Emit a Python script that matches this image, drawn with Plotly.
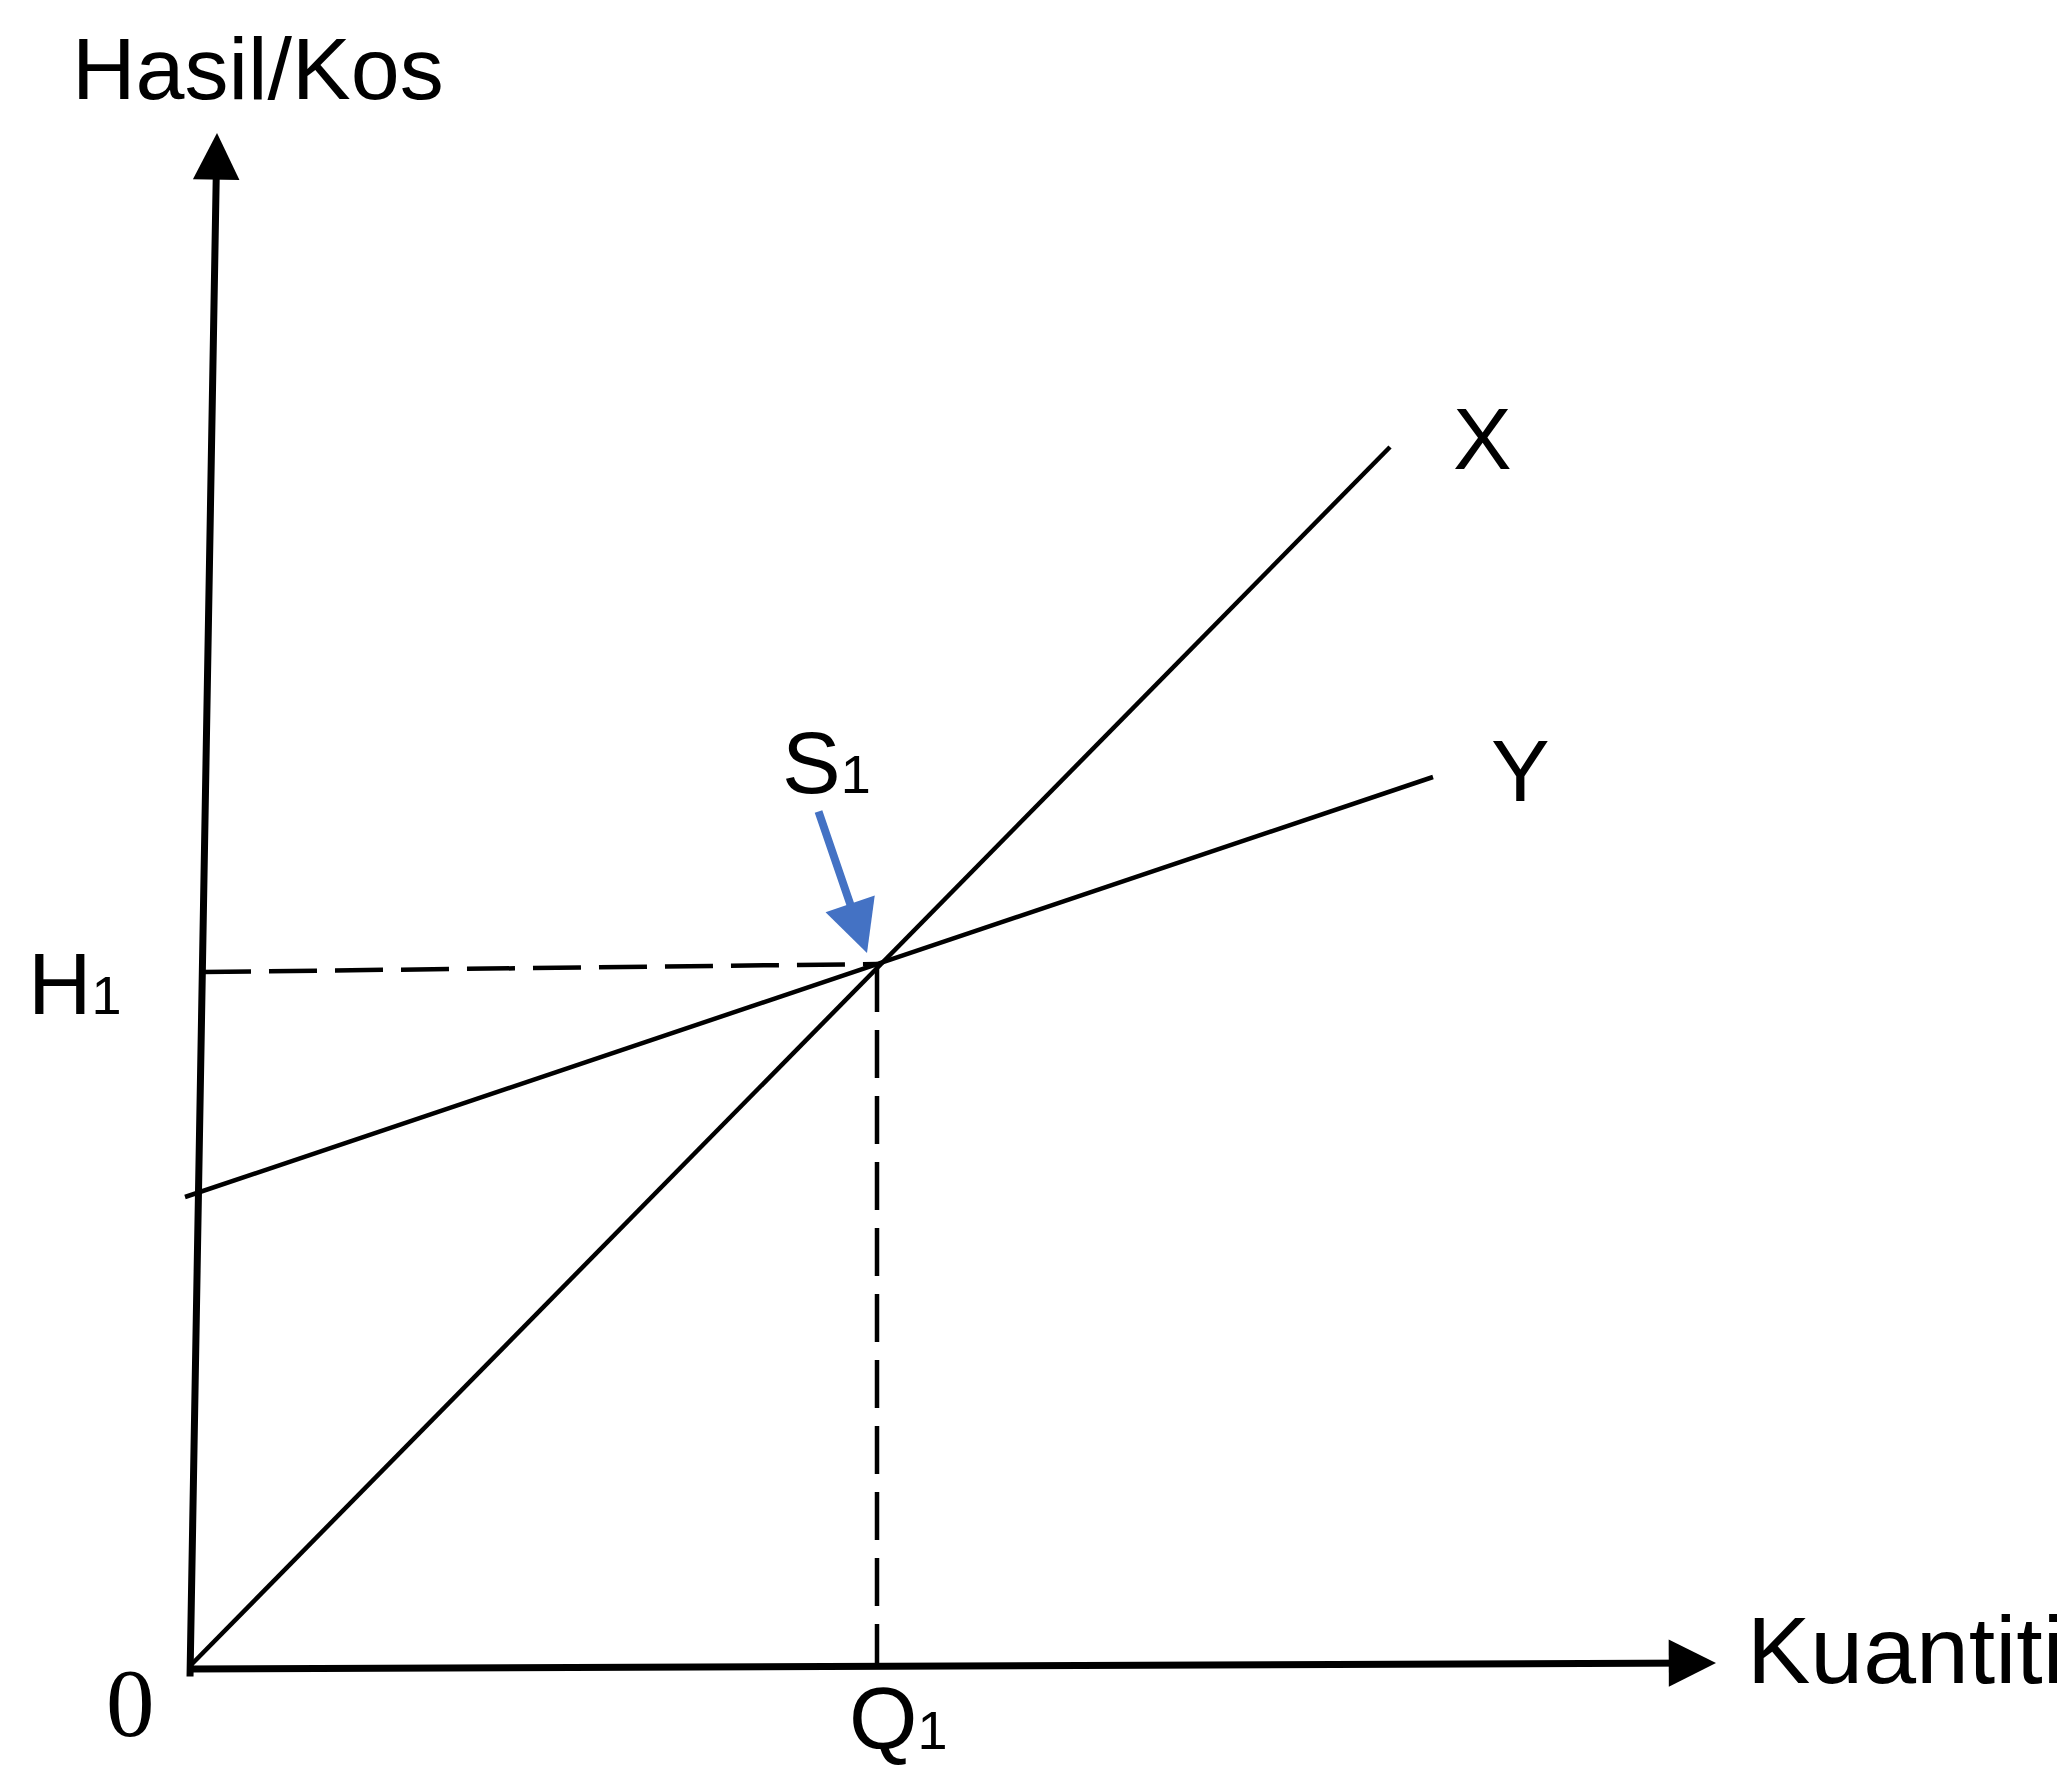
import plotly.graph_objects as go

# diagram values (origin = 0, one unit ~ 100 px)
q1 = 6.88
h1 = 7.03

x_curve_q = [0.0, 12.01]
x_curve_h = [0.0, 12.20]
y_curve_q = [-0.04, 12.44]
y_curve_h = [4.70, 8.90]

h1_guide_q = [0.14, q1]
h1_guide_h = [6.95, h1]
q1_guide_q = [q1, q1]
q1_guide_h = [h1, 0.0]

yaxis_q = [0.01, 0.28]      # bottom, tip
yaxis_h = [-0.11, 15.34]
xaxis_q = [-0.03, 15.27]    # left, tip
xaxis_h = [-0.02, 0.04]
s1_arrow_q = [6.29, 6.78]   # tail, tip
s1_arrow_h = [8.57, 7.14]

labels = ["Hasil/Kos", "X", "Y", "S<span style='font-size:54px'>1</span>",
          "H<span style='font-size:54px'>1</span>", "Q<span style='font-size:54px'>1</span>",
          "Kuantiti"]

BLACK = "#000000"
BLUE = "#4472c4"
SANS = "Liberation Sans, Arial, sans-serif"

fig = go.Figure()

fig.add_trace(go.Scatter(x=x_curve_q, y=x_curve_h, mode="lines",
                         line=dict(color=BLACK, width=4.5)))
fig.add_trace(go.Scatter(x=y_curve_q, y=y_curve_h, mode="lines",
                         line=dict(color=BLACK, width=4.5)))
fig.add_trace(go.Scatter(x=h1_guide_q, y=h1_guide_h, mode="lines",
                         line=dict(color=BLACK, width=4.5, dash="48px,18px")))
fig.add_trace(go.Scatter(x=q1_guide_q, y=q1_guide_h, mode="lines",
                         line=dict(color=BLACK, width=4.5, dash="48px,18px")))

# axes and the S1 pointer, drawn as annotation arrows
arrows = [
    (yaxis_q, yaxis_h, BLACK, 7, 1.33),
    (xaxis_q, xaxis_h, BLACK, 7, 1.35),
    (s1_arrow_q, s1_arrow_h, BLUE, 8, 1.3),
]
for qs, hs, col, w, size in arrows:
    fig.add_annotation(x=qs[1], y=hs[1], ax=qs[0], ay=hs[0],
                       xref="x", yref="y", axref="x", ayref="y",
                       text="", showarrow=True, arrowhead=2,
                       arrowwidth=w, arrowsize=size, arrowcolor=col)

label_pos = [
    (0.69, 15.99, "center", 88),
    (12.93, 12.29, "center", 88),
    (13.31, 8.97, "center", 88),
    (6.37, 9.05, "center", 88),
    (-1.14, 6.84, "center", 88),
    (7.09, -0.51, "center", 88),
    (15.56, 0.17, "left", 95),
]
for text, (lx, ly, anchor, fs) in zip(labels, label_pos):
    fig.add_annotation(x=lx, y=ly, xref="x", yref="y", text=text,
                       showarrow=False, xanchor=anchor, yanchor="middle",
                       font=dict(family=SANS, size=fs, color=BLACK))

fig.add_annotation(x=-0.59, y=-0.36, xref="x", yref="y", text="0",
                   showarrow=False, xanchor="center", yanchor="middle",
                   font=dict(family="Liberation Serif, Times New Roman, serif",
                             size=97, color=BLACK))

# ranges account for the 8px page margin around the plot div
fig.update_layout(
    width=2065, height=1769,
    margin=dict(l=0, r=0, t=0, b=0),
    plot_bgcolor="white", paper_bgcolor="white",
    showlegend=False,
    xaxis=dict(range=[-1.81, 18.84], visible=False, fixedrange=True),
    yaxis=dict(range=[-1.10, 16.59], visible=False, fixedrange=True),
)

fig.write_html("out.html")
